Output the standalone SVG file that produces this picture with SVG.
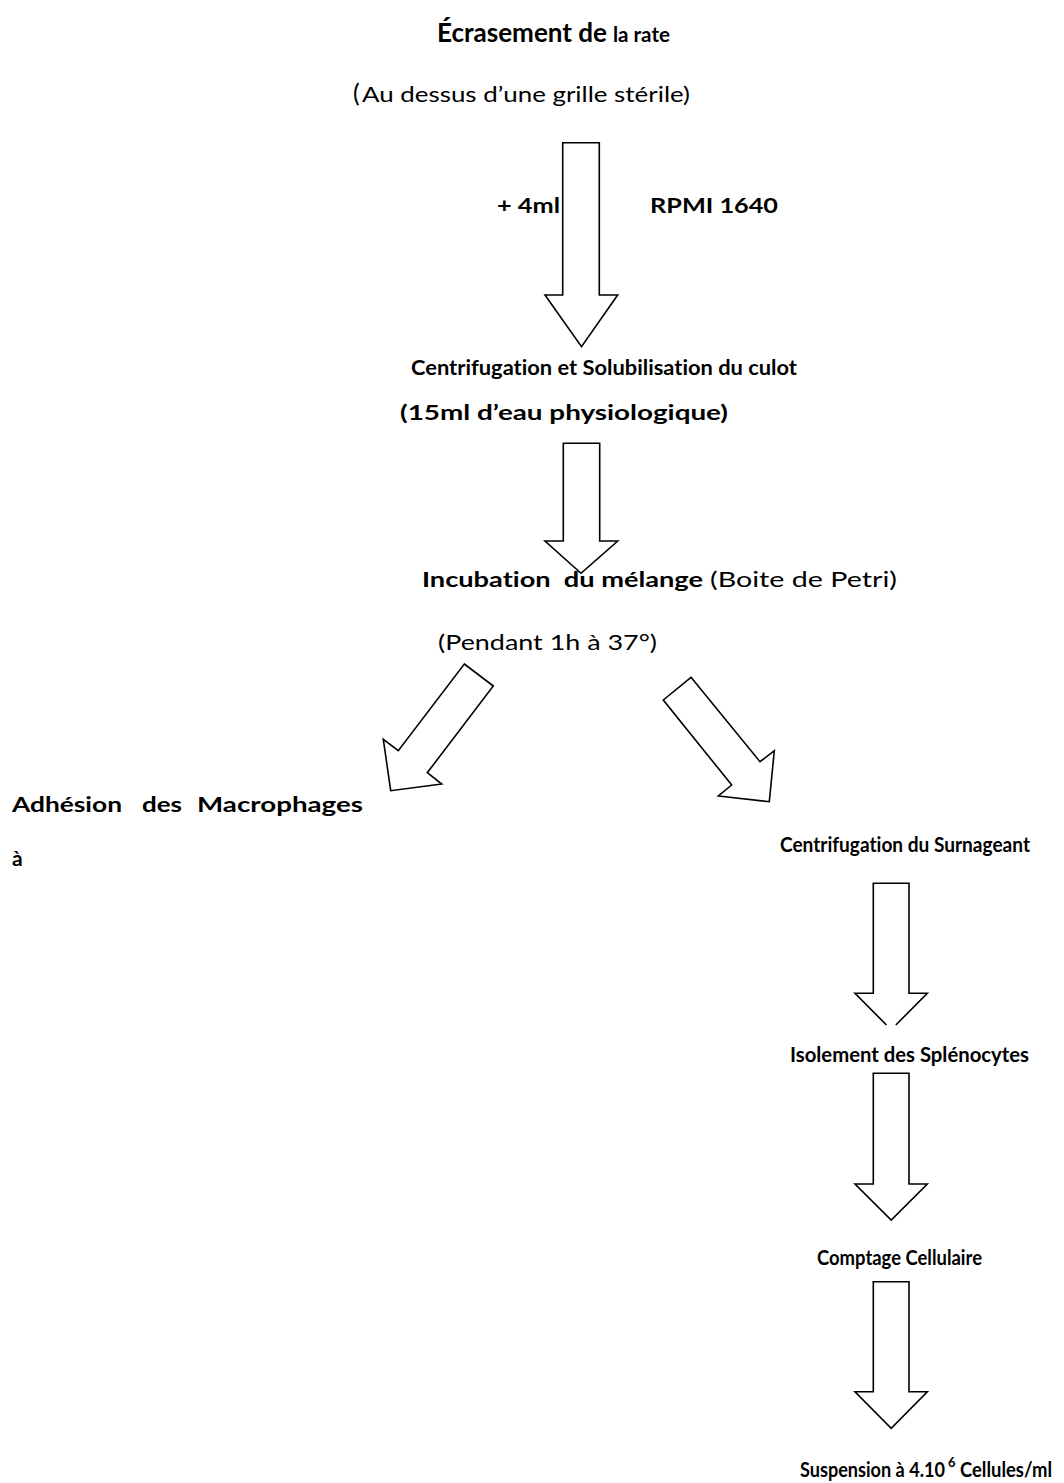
<svg xmlns="http://www.w3.org/2000/svg" width="1064" height="1483" viewBox="0 0 1064 1483">
<style>
.t{font-family:Lato,"Noto Sans","Liberation Sans",sans-serif;fill:#000;font-variant-ligatures:none;font-feature-settings:"liga" 0}
.b{font-weight:bold;font-size:21px}
.n{font-weight:normal;font-size:21px}
.arr{fill:#fff;stroke:#000;stroke-width:1.6;stroke-linejoin:miter}
</style>
<rect width="1064" height="1483" fill="#fff"/>
<g id="connectors">
<path class="arr" d="M562.7,142.7 H599.3 V295 H617.7 L581.5,346.7 L545,295 H562.7 Z"/>
<path class="arr" d="M563.3,443.3 H599.7 V541 H617.7 L581,573.3 L545,541 H563.3 Z"/>
<path class="arr" d="M464.3,664 L493.3,686 L427.3,772.7 L441.7,784 L390.7,790.7 L383.3,739.3 L398.3,750.7 Z"/>
<path class="arr" d="M691,677.3 L760,761.7 L774.3,750.7 L769.3,801.7 L718.3,796 L731.7,785 L663.3,700 Z"/>
<path class="arr" d="M886.5,1025 L855,993.3 H873.3 V883.3 H909 V993.3 H927.3 L895.8,1025"/>
<path class="arr" d="M873.3,1073.3 H909 V1184 H927.3 L891.2,1220 L855,1184 H873.3 Z"/>
<path class="arr" d="M873.3,1281.7 H909 V1391.7 H927.3 L891.2,1428.3 L855,1391.7 H873.3 Z"/>
</g>
<g id="n-ecrasement">
<text class="t" y="42" font-weight="bold"><tspan x="437" font-size="26" textLength="170" lengthAdjust="spacingAndGlyphs">Écrasement de</tspan><tspan x="613" font-size="20" textLength="57" lengthAdjust="spacingAndGlyphs">la rate</tspan></text>
</g>
<g id="n-grille">
<text class="t n" y="102"><tspan x="353" font-size="25">(</tspan><tspan x="362" textLength="328" lengthAdjust="spacingAndGlyphs">Au dessus d’une grille stérile)</tspan></text>
</g>
<g id="n-rpmi">
<text class="t b" x="497" y="213" textLength="63" lengthAdjust="spacingAndGlyphs">+ 4ml</text>
<text class="t b" x="650" y="213" textLength="128" lengthAdjust="spacingAndGlyphs">RPMI 1640</text>
</g>
<g id="n-centrifugation">
<text class="t b" x="411" y="375" textLength="386" lengthAdjust="spacingAndGlyphs">Centrifugation et Solubilisation du culot</text>
<text class="t b" x="400" y="420" textLength="328" lengthAdjust="spacingAndGlyphs">(15ml d’eau physiologique)</text>
</g>
<g id="n-incubation">
<text class="t b" x="422" y="587" xml:space="preserve" textLength="281" lengthAdjust="spacingAndGlyphs">Incubation  du mélange</text>
<text class="t n" x="710" y="587" textLength="187" lengthAdjust="spacingAndGlyphs">(Boite de Petri)</text>
<text class="t n" x="438" y="650" textLength="219" lengthAdjust="spacingAndGlyphs">(Pendant 1h à 37°)</text>
</g>
<g id="n-adhesion">
<text class="t b" x="12" y="812" textLength="110" lengthAdjust="spacingAndGlyphs">Adhésion</text>
<text class="t b" x="142" y="812" textLength="40" lengthAdjust="spacingAndGlyphs">des</text>
<text class="t b" x="197" y="812" textLength="166" lengthAdjust="spacingAndGlyphs">Macrophages</text>
<text class="t b" x="12" y="866">à</text>
</g>
<g id="n-surnageant">
<text class="t b" x="780" y="852" textLength="250" lengthAdjust="spacingAndGlyphs">Centrifugation du Surnageant</text>
</g>
<g id="n-isolement">
<text class="t b" x="790" y="1062" textLength="239" lengthAdjust="spacingAndGlyphs">Isolement des Splénocytes</text>
</g>
<g id="n-comptage">
<text class="t b" x="817" y="1265" textLength="165" lengthAdjust="spacingAndGlyphs">Comptage Cellulaire</text>
</g>
<g id="n-suspension">
<text class="t b" x="800" y="1477" textLength="145" lengthAdjust="spacingAndGlyphs">Suspension à 4.10</text>
<text class="t" x="948" y="1467" font-weight="bold" font-size="13">6</text>
<text class="t b" x="960" y="1477" textLength="92" lengthAdjust="spacingAndGlyphs">Cellules/ml</text>
</g>
</svg>
